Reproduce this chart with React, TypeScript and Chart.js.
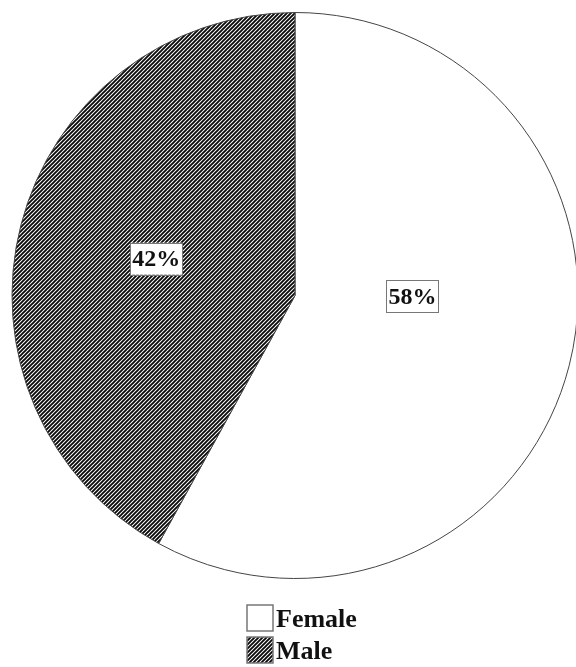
import React, { useEffect, useRef } from "react";
import { Chart, registerables } from "chart.js";

Chart.register(...registerables);

const categories = ["Female", "Male"];
const shares = [58, 42];
const percentLabels = ["58%", "42%"];

function makeHatch(): CanvasPattern | string {
  const s = 4;
  const c = document.createElement("canvas");
  c.width = s;
  c.height = s;
  const g = c.getContext("2d");
  if (!g) return "#333";
  g.fillStyle = "#ffffff";
  g.fillRect(0, 0, s, s);
  g.strokeStyle = "#0a0a0a";
  g.lineWidth = 1.9;
  g.beginPath();
  g.moveTo(-1, s + 1);
  g.lineTo(s + 1, -1);
  g.moveTo(-1, 1);
  g.lineTo(1, -1);
  g.moveTo(s - 1, s + 1);
  g.lineTo(s + 1, s - 1);
  g.stroke();
  return g.createPattern(c, "repeat") || "#333";
}

const labelPlugin = {
  id: "pctLabels",
  afterDatasetsDraw(chart: any) {
    const ctx = chart.ctx;
    const meta = chart.getDatasetMeta(0);
    const offsets = [
      [0.415, 0.003],
      [-0.49, -0.13],
    ];
    ctx.save();
    ctx.font = "bold 24px 'Liberation Serif', serif";
    ctx.textAlign = "center";
    ctx.textBaseline = "middle";
    meta.data.forEach((arc: any, i: number) => {
      const { x, y, outerRadius } = arc.getProps(["x", "y", "outerRadius"], true);
      const cx = x + offsets[i][0] * outerRadius;
      const cy = y + offsets[i][1] * outerRadius;
      const txt = percentLabels[i];
      const w = ctx.measureText(txt).width + 4;
      const h = 32;
      ctx.fillStyle = "#ffffff";
      ctx.fillRect(cx - w / 2, cy - h / 2, w, h);
      ctx.strokeStyle = "#777777";
      ctx.lineWidth = 1;
      ctx.strokeRect(Math.round(cx - w / 2) + 0.5, Math.round(cy - h / 2) + 0.5, Math.round(w), h);
      ctx.fillStyle = "#111111";
      ctx.fillText(txt, cx, cy + 1);
    });
    ctx.restore();
  },
};

const legendPlugin = {
  id: "stackLegend",
  afterDraw(chart: any) {
    const ctx = chart.ctx;
    const bg = chart.data.datasets[0].backgroundColor;
    const boxX = 247;
    const startY = 605;
    const box = 26;
    const gap = 6;
    ctx.save();
    ctx.font = "bold 26px 'Liberation Serif', serif";
    ctx.textBaseline = "alphabetic";
    ctx.textAlign = "left";
    chart.data.labels.forEach((lab: string, i: number) => {
      const y = startY + i * (box + gap);
      ctx.fillStyle = bg[i];
      ctx.fillRect(boxX, y, box, box);
      ctx.strokeStyle = "#777777";
      ctx.lineWidth = 1.5;
      ctx.strokeRect(boxX, y, box, box);
      ctx.fillStyle = "#111111";
      ctx.fillText(lab, boxX + box + 3, y + 22);
    });
    ctx.restore();
  },
};

export default function App() {
  const ref = useRef<HTMLCanvasElement | null>(null);
  useEffect(() => {
    if (!ref.current) return;
    const hatch = makeHatch();
    const chart = new Chart(ref.current, {
      type: "pie",
      data: {
        labels: categories,
        datasets: [
          {
            data: shares,
            backgroundColor: ["#ffffff", hatch as any],
            borderColor: "#444444",
            borderWidth: 1,
          },
        ],
      },
      options: {
        responsive: false,
        animation: false,
        layout: { padding: { top: 12, bottom: 88, left: 0, right: 0 } },
        plugins: {
          legend: { display: false },
          tooltip: { enabled: false },
        },
      },
      plugins: [labelPlugin, legendPlugin],
    });
    return () => chart.destroy();
  }, []);
  return (
    <div
      style={{
        position: "absolute",
        left: 0,
        top: 0,
        width: 576,
        height: 667,
        overflow: "hidden",
        background: "#ffffff",
      }}
    >
      <canvas ref={ref} width={590} height={667} style={{ width: 590, height: 667 }} />
    </div>
  );
}
